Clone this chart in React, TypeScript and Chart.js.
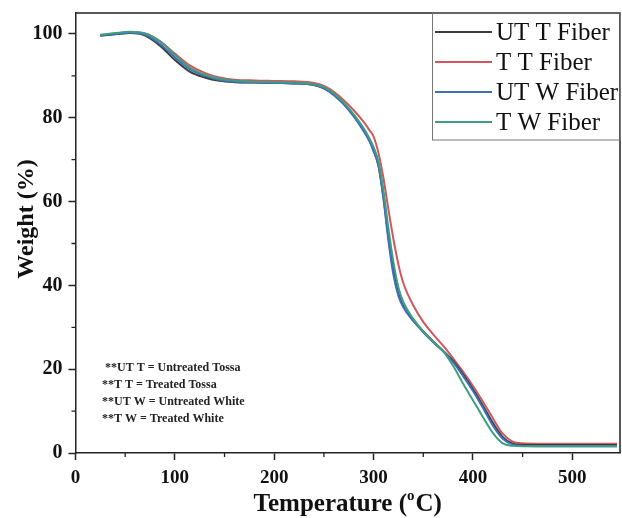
import React, { useEffect, useRef } from "react";
import { Chart, registerables } from "chart.js";

Chart.register(...registerables);

// ---------- data ----------
const temperatures = [
  25, 40, 55, 70, 85, 100, 115, 130, 145, 160, 180, 200, 220, 240, 250, 260, 270, 280, 290, 296,
  300, 305, 310, 315, 320, 325, 330, 340, 350, 360, 370, 380, 390, 400, 410, 420, 430, 440, 450,
  470, 500, 530, 545,
];

const utTFiber = [
  99.6, 99.9, 100.2, 99.6, 97.2, 93.8, 91.0, 89.6, 88.8, 88.5, 88.4, 88.3, 88.2, 87.8, 87.0, 85.5,
  83.3, 80.5, 77.0, 74.5, 72.2, 68.5, 61.0, 51.5, 43.5, 38.0, 35.0, 31.6, 29.0, 26.6, 24.4, 22.0,
  18.8, 15.2, 11.3, 7.2, 3.8, 2.2, 1.9, 1.9, 1.9, 1.9, 1.9,
];

const tTFiber = [
  99.7, 100.1, 100.4, 100.1, 98.3, 95.3, 92.5, 90.7, 89.6, 89.1, 88.9, 88.8, 88.7, 88.3, 87.6, 86.2,
  84.2, 81.8, 79.0, 77.0, 75.5, 71.5, 65.5, 58.0, 51.0, 45.0, 40.5, 35.2, 31.3, 28.3, 25.6, 22.6,
  19.4, 16.0, 12.3, 8.3, 4.6, 2.7, 2.3, 2.2, 2.2, 2.2, 2.2,
];

const utWFiber = [
  99.7, 100.0, 100.3, 99.8, 97.6, 94.4, 91.6, 90.0, 89.0, 88.6, 88.4, 88.3, 88.2, 87.8, 87.0, 85.4,
  83.2, 80.3, 76.8, 74.3, 72.0, 68.5, 60.5, 50.5, 42.5, 37.5, 34.8, 31.5, 28.8, 26.4, 24.3, 21.7,
  18.4, 14.8, 10.8, 6.6, 3.4, 2.0, 1.7, 1.6, 1.6, 1.6, 1.6,
];

const tWFiber = [
  99.8, 100.2, 100.5, 100.1, 98.2, 95.0, 92.0, 90.3, 89.3, 88.9, 88.6, 88.5, 88.4, 88.0, 87.3, 85.8,
  83.6, 80.8, 77.5, 75.0, 73.0, 69.5, 62.5, 53.5, 45.5, 39.5, 36.0, 32.0, 29.0, 26.6, 24.3, 20.8,
  16.6, 12.6, 8.6, 4.8, 2.3, 1.7, 1.6, 1.6, 1.6, 1.6, 1.6,
];

const seriesLabels = ["UT T Fiber", "T T Fiber", "UT W Fiber", "T W Fiber"];
const seriesValues = [utTFiber, tTFiber, utWFiber, tWFiber];
const seriesColors = ["#3c3c3c", "#d0585c", "#3f6fb9", "#3f9e82"];
const seriesOrder = [2, 3, 1, 0];

const xTickValues = [0, 100, 200, 300, 400, 500];
const yTickValues = [0, 20, 40, 60, 80, 100];
const xMinorTicks = [50, 150, 250, 350, 450];
const yMinorTicks = [10, 30, 50, 70, 90];

const noteLines = [
  " **UT T = Untreated Tossa",
  "**T T = Treated Tossa",
  "**UT W = Untreated White",
  "**T W = Treated White",
];

const SERIF = "'Liberation Serif', 'Times New Roman', serif";

const decorPlugin = {
  id: "decor",
  afterDraw(chart: any) {
    const { ctx, chartArea: a, scales } = chart;
    const xs = scales.x;
    const ys = scales.y;
    ctx.save();

    // frame top & right
    ctx.strokeStyle = "#222";
    ctx.lineWidth = 1.5;
    ctx.beginPath();
    ctx.moveTo(a.left, a.top);
    ctx.lineTo(a.right, a.top);
    ctx.lineTo(a.right, a.bottom);
    ctx.stroke();

    // minor ticks
    ctx.lineWidth = 1.3;
    ctx.beginPath();
    xMinorTicks.forEach((v) => {
      const px = xs.getPixelForValue(v);
      if (px <= a.right) {
        ctx.moveTo(px, a.bottom);
        ctx.lineTo(px, a.bottom + 4);
      }
    });
    yMinorTicks.forEach((v) => {
      const py = ys.getPixelForValue(v);
      ctx.moveTo(a.left, py);
      ctx.lineTo(a.left - 4, py);
    });
    ctx.stroke();

    // legend
    const lx = 432;
    const ly = a.top;
    const lw = a.right - lx;
    const lh = 127;
    ctx.strokeStyle = "#777";
    ctx.lineWidth = 1;
    ctx.strokeRect(lx + 0.5, ly, lw, lh);
    ctx.font = `25px ${SERIF}`;
    ctx.textBaseline = "middle";
    ctx.textAlign = "left";
    seriesLabels.forEach((label, i) => {
      const y = ly + 19 + i * 30;
      ctx.strokeStyle = seriesColors[i];
      ctx.lineWidth = 2;
      ctx.beginPath();
      ctx.moveTo(lx + 3, y);
      ctx.lineTo(lx + 60, y);
      ctx.stroke();
      ctx.fillStyle = "#111";
      ctx.fillText(label, lx + 64, y + 1);
    });

    // notes
    ctx.font = `bold 12px ${SERIF}`;
    ctx.fillStyle = "#222";
    noteLines.forEach((t, i) => {
      ctx.fillText(t, 102, 368 + i * 17);
    });

    // axis titles
    ctx.fillStyle = "#111";
    ctx.font = `bold 25px ${SERIF}`;
    const p1 = "Temperature (";
    const p3 = "C)";
    const w1 = ctx.measureText(p1).width;
    const w3 = ctx.measureText(p3).width;
    ctx.font = `bold 15px ${SERIF}`;
    const w2 = ctx.measureText("o").width;
    const total = w1 + w2 + w3 + 1;
    const cx = (a.left + a.right) / 2;
    const x0 = cx - total / 2;
    const ty = 505;
    ctx.textBaseline = "middle";
    ctx.font = `bold 25px ${SERIF}`;
    ctx.fillText(p1, x0, ty);
    ctx.font = `bold 15px ${SERIF}`;
    ctx.fillText("o", x0 + w1, ty - 9);
    ctx.font = `bold 25px ${SERIF}`;
    ctx.fillText(p3, x0 + w1 + w2 + 1, ty);

    ctx.translate(27, 219);
    ctx.rotate(-Math.PI / 2);
    ctx.textAlign = "center";
    ctx.font = `bold 24px ${SERIF}`;
    ctx.fillText("Weight (%)", 0, 0);

    ctx.restore();
  },
};

export default function App() {
  const canvasRef = useRef<HTMLCanvasElement | null>(null);

  useEffect(() => {
    const canvas = canvasRef.current;
    if (!canvas) return;
    const datasets = seriesLabels.map((label, i) => ({
      label,
      data: temperatures.map((t, j) => ({ x: t, y: seriesValues[i][j] })),
      borderColor: seriesColors[i],
      backgroundColor: seriesColors[i],
      borderWidth: 2,
      pointRadius: 0,
      fill: false,
      tension: 0.4,
      cubicInterpolationMode: "monotone" as const,
      order: seriesOrder[i],
    }));

    const chart = new Chart(canvas, {
      type: "line",
      data: { datasets },
      options: {
        responsive: false,
        animation: false,
        devicePixelRatio: 1,
        layout: { padding: { top: 13, right: 2, left: 0, bottom: 0 } },
        plugins: {
          legend: { display: false },
          tooltip: { enabled: false },
          title: { display: false },
        },
        scales: {
          x: {
            type: "linear",
            min: 0,
            max: 548,
            afterBuildTicks: (scale: any) => {
              scale.ticks = xTickValues.map((v) => ({ value: v }));
            },
            afterFit: (scale: any) => {
              scale.height = 65;
              scale.paddingLeft = 0;
              scale.paddingRight = 0;
            },
            grid: {
              display: true,
              drawOnChartArea: false,
              drawTicks: true,
              tickLength: 7,
              color: "#222",
              tickWidth: 1.5,
            },
            border: { display: true, color: "#222", width: 1.5 },
            ticks: {
              color: "#111",
              padding: 7,
              maxRotation: 0,
              font: { family: SERIF, size: 19, weight: "bold" },
            },
          },
          y: {
            type: "linear",
            min: 0,
            max: 105,
            afterBuildTicks: (scale: any) => {
              scale.ticks = yTickValues.map((v) => ({ value: v }));
            },
            afterFit: (scale: any) => {
              scale.width = 75.5;
              scale.paddingTop = 0;
              scale.paddingBottom = 0;
            },
            grid: {
              display: true,
              drawOnChartArea: false,
              drawTicks: true,
              tickLength: 7,
              color: "#222",
              tickWidth: 1.5,
            },
            border: { display: true, color: "#222", width: 1.5 },
            ticks: {
              color: "#111",
              padding: 6,
              font: { family: SERIF, size: 20, weight: "bold" },
            },
          },
        },
      },
      plugins: [decorPlugin],
    });

    return () => chart.destroy();
  }, []);

  return (
    <div style={{ position: "absolute", left: 0, top: 0, width: 622, height: 518, background: "#fff" }}>
      <canvas ref={canvasRef} width={622} height={518} style={{ display: "block" }} />
    </div>
  );
}
